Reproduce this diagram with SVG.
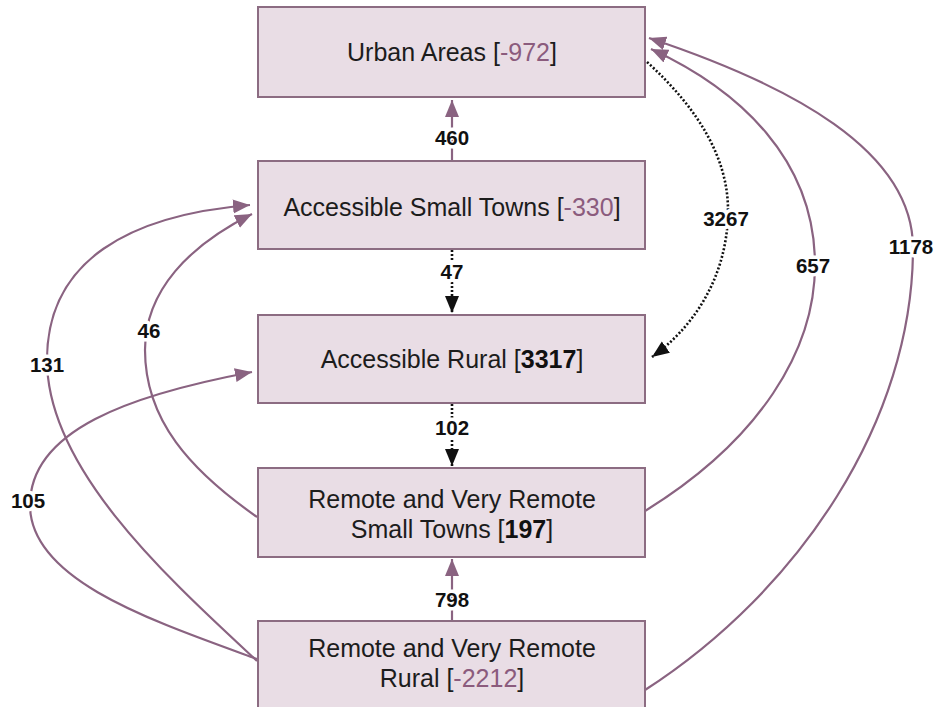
<svg xmlns="http://www.w3.org/2000/svg" width="947" height="707" viewBox="0 0 947 707">
<defs>
<style>
.box{fill:#e9dde5;stroke:#8c6c82;stroke-width:2}
.nt{font-family:"Liberation Sans",Arial,sans-serif;font-size:25px;fill:#1c1c1c;text-anchor:middle}
.neg{fill:#8b5b7d}
.pos{font-weight:bold;fill:#111}
.pl{fill:none;stroke:#8a6381;stroke-width:2.2}
.dl{fill:none;stroke:#111;stroke-width:2.6;stroke-dasharray:2 2}
.lb{font-family:"Liberation Sans",Arial,sans-serif;font-size:20.5px;font-weight:bold;fill:#111;text-anchor:middle;stroke:#fff;stroke-width:7;stroke-linejoin:round;paint-order:stroke}
</style>
<marker id="ap" markerUnits="userSpaceOnUse" markerWidth="18" markerHeight="15" refX="17" refY="7" orient="auto">
<path d="M0,0 L17,7 L0,14 z" fill="#8a6381"/>
</marker>
<marker id="ak" markerUnits="userSpaceOnUse" markerWidth="18" markerHeight="15" refX="17" refY="7" orient="auto">
<path d="M0,0 L17,7 L0,14 z" fill="#111"/>
</marker>
</defs>
<rect width="947" height="707" fill="#fff"/>
<g id="connectors">
<path class="pl" d="M452,161 L452,100" marker-end="url(#ap)"/>
<path class="dl" d="M452,250 L452,313" marker-end="url(#ak)"/>
<path class="dl" d="M452,404 L452,466" marker-end="url(#ak)"/>
<path class="pl" d="M452,621 L452,559" marker-end="url(#ap)"/>
<path class="dl" d="M647,62 C700,110 728,160 728,210 C728,280 690,330 652,357" marker-end="url(#ak)"/>
<path class="pl" d="M645,511 C760,440 815,350 815,265 C815,160 740,90 651,49" marker-end="url(#ap)"/>
<path class="pl" d="M645,690 C800,590 913,420 913,248 C913,150 790,85 649,38" marker-end="url(#ap)"/>
<path class="pl" d="M257,661 C170,580 47,470 47,360 C47,260 130,215 250,205" marker-end="url(#ap)"/>
<path class="pl" d="M257,517 C190,470 145,420 145,350 C145,290 190,245 252,214" marker-end="url(#ap)"/>
<path class="pl" d="M257,659 C150,620 30,580 30,505 C30,430 130,395 252,372" marker-end="url(#ap)"/>
<text class="lb" x="452" y="145">460</text>
<text class="lb" x="452" y="279">47</text>
<text class="lb" x="452" y="435">102</text>
<text class="lb" x="452" y="607">798</text>
<text class="lb" x="726" y="226">3267</text>
<text class="lb" x="813" y="273">657</text>
<text class="lb" x="911" y="254">1178</text>
<text class="lb" x="47" y="372">131</text>
<text class="lb" x="149" y="338">46</text>
<text class="lb" x="28" y="508">105</text>
</g>
<g id="urban">
<rect class="box" x="258" y="7" width="387" height="90"/>
<text class="nt" x="452" y="61">Urban Areas [<tspan class="neg">-972</tspan>]</text>
</g>
<g id="accessible-small-towns">
<rect class="box" x="258" y="161" width="387" height="88"/>
<text class="nt" x="452" y="216">Accessible Small Towns [<tspan class="neg">-330</tspan>]</text>
</g>
<g id="accessible-rural">
<rect class="box" x="258" y="315" width="387" height="88"/>
<text class="nt" x="452" y="368">Accessible Rural [<tspan class="pos">3317</tspan>]</text>
</g>
<g id="remote-small-towns">
<rect class="box" x="258" y="468" width="387" height="89"/>
<text class="nt" x="452" y="508">Remote and Very Remote</text>
<text class="nt" x="452" y="538">Small Towns [<tspan class="pos">197</tspan>]</text>
</g>
<g id="remote-rural">
<rect class="box" x="258" y="621" width="387" height="90"/>
<text class="nt" x="452" y="657">Remote and Very Remote</text>
<text class="nt" x="452" y="687">Rural [<tspan class="neg">-2212</tspan>]</text>
</g>
</svg>
